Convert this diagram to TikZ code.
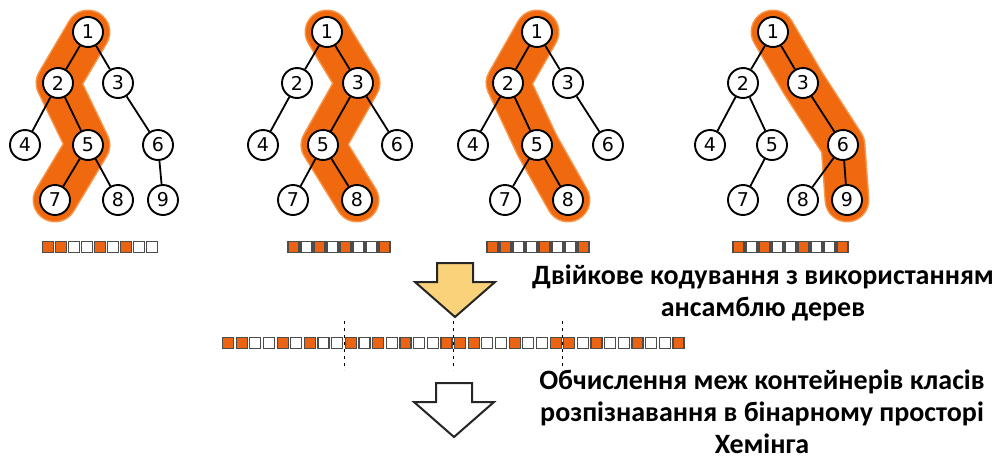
\documentclass[tikz,border=0pt]{standalone}
\usepackage{fontspec}
\setmainfont{Carlito}
\newfontfamily\numfont{DejaVu Sans}
\usetikzlibrary{backgrounds}
\definecolor{hlorange}{RGB}{240,105,15}
\definecolor{hlhalo}{RGB}{246,150,75}
\definecolor{bitorange}{RGB}{235,100,20}
\definecolor{arrowyellow}{RGB}{250,210,122}
\tikzset{
  vtx/.style={circle,draw,line width=1.9pt,fill=white,minimum size=30pt,
    inner sep=0pt,font=\numfont\fontsize{19}{19}\selectfont},
  edge/.style={line width=1.8pt},
  halo/.style={line width=45pt,hlhalo,line cap=round,line join=round},
  band/.style={line width=42pt,hlorange,line cap=round,line join=round},
  bit0/.style={draw=black!70,line width=1.2pt,minimum size=11pt,inner sep=0pt,fill=white},
  bit1/.style={bit0,fill=bitorange},
  sep/.style={dashed,line width=1pt,dash pattern=on 3pt off 4pt},
  blockarrow/.style={draw=black!85,line width=2pt,line join=miter},
  caption/.style={align=center,font=\bfseries\fontsize{28}{32}\selectfont}
}
% row of bit squares: name, first x, y, pitch, bits
\newcommand{\bitrow}[5]{%
  \foreach \b [count=\k] in {#5}
    \node[bit\b] (#1-\k) at ({#2+(\k-1)*#4},#3) {};
}
% hollow arrow pointing down, tip at (#2,#3)
\newcommand{\blockdown}[3]{%
  \draw[blockarrow,fill=#1] (#2-18,#3-54) -- (#2+18,#3-54) -- (#2+18,#3-35)
    -- (#2+40,#3-35) -- (#2,#3) -- (#2-40,#3-35) -- (#2-18,#3-35) -- cycle;
}

\begin{document}
\begin{tikzpicture}[x=1pt,y=-1pt]
\useasboundingbox (0,0) rectangle (1003,461);

% tree 1, path 1-2-5-7
\node[vtx] (a1) at (88,32) {1};
\node[vtx] (a2) at (58,83) {2};
\node[vtx] (a3) at (118,83) {3};
\node[vtx] (a4) at (25,145) {4};
\node[vtx] (a5) at (88,145) {5};
\node[vtx] (a6) at (158,145) {6};
\node[vtx] (a7) at (55,200) {7};
\node[vtx] (a8) at (118,200) {8};
\node[vtx] (a9) at (163,200) {9};
\draw[edge] (a1) -- (a2) (a1) -- (a3) (a2) -- (a4) (a2) -- (a5)
  (a3) -- (a6) (a5) -- (a7) (a5) -- (a8) (a6) -- (a9);
\begin{scope}[on background layer]
\draw[halo] (a1.center) -- (a2.center) -- (a5.center) -- (a7.center);
\draw[band] (a1.center) -- (a2.center) -- (a5.center) -- (a7.center);
\end{scope}
\bitrow{ba}{48}{247}{13}{1,1,0,0,1,0,1,0,0}

% tree 2, path 1-3-5-8
\node[vtx] (b1) at (327,32) {1};
\node[vtx] (b2) at (297,83) {2};
\node[vtx] (b3) at (358,83) {3};
\node[vtx] (b4) at (263,145) {4};
\node[vtx] (b5) at (323,145) {5};
\node[vtx] (b6) at (397,145) {6};
\node[vtx] (b7) at (293,200) {7};
\node[vtx] (b8) at (357,200) {8};
\draw[edge] (b1) -- (b2) (b1) -- (b3) (b2) -- (b4) (b3) -- (b5)
  (b3) -- (b6) (b5) -- (b7) (b5) -- (b8);
\begin{scope}[on background layer]
\draw[halo] (b1.center) -- (b3.center) -- (b5.center) -- (b8.center);
\draw[band] (b1.center) -- (b3.center) -- (b5.center) -- (b8.center);
\end{scope}
\bitrow{bb}{293.5}{247}{13}{1,0,1,0,1,0,0,1}

% tree 3, path 1-2-5-8
\node[vtx] (c1) at (537,32) {1};
\node[vtx] (c2) at (508,83) {2};
\node[vtx] (c3) at (568,83) {3};
\node[vtx] (c4) at (473,145) {4};
\node[vtx] (c5) at (537,145) {5};
\node[vtx] (c6) at (608,145) {6};
\node[vtx] (c7) at (505,200) {7};
\node[vtx] (c8) at (568,200) {8};
\draw[edge] (c1) -- (c2) (c1) -- (c3) (c2) -- (c4) (c2) -- (c5)
  (c3) -- (c6) (c5) -- (c7) (c5) -- (c8);
\begin{scope}[on background layer]
\draw[halo] (c1.center) -- (c2.center) -- (c5.center) -- (c8.center);
\draw[band] (c1.center) -- (c2.center) -- (c5.center) -- (c8.center);
\end{scope}
\bitrow{bc}{492.5}{247}{13}{1,1,0,0,1,0,0,1}

% tree 4, path 1-3-6-9
\node[vtx] (d1) at (773,32) {1};
\node[vtx] (d2) at (743,83) {2};
\node[vtx] (d3) at (803,83) {3};
\node[vtx] (d4) at (710,145) {4};
\node[vtx] (d5) at (772,145) {5};
\node[vtx] (d6) at (843,145) {6};
\node[vtx] (d7) at (743,200) {7};
\node[vtx] (d8) at (803,200) {8};
\node[vtx] (d9) at (847,200) {9};
\draw[edge] (d1) -- (d2) (d1) -- (d3) (d2) -- (d4) (d2) -- (d5)
  (d3) -- (d6) (d5) -- (d7) (d6) -- (d8) (d6) -- (d9);
\begin{scope}[on background layer]
\draw[halo] (d1.center) -- (d3.center) -- (d6.center) -- (d9.center);
\draw[band] (d1.center) -- (d3.center) -- (d6.center) -- (d9.center);
\end{scope}
\bitrow{bd}{738.5}{247}{13}{1,0,1,0,0,1,0,0,1}

% ensemble code
\blockdown{arrowyellow}{455}{317}
\bitrow{all}{228}{343}{13.65}{1,1,0,0,1,0,1,0,0,1,0,1,0,1,0,0,1,1,1,0,0,1,0,0,1,1,0,1,0,0,1,0,0,1}
\foreach \j in {9,17,25}
  \draw[sep] ([xshift=1pt,yshift=22pt]all-\j.east) -- ([xshift=1pt,yshift=-27pt]all-\j.east);
\blockdown{white}{454}{437}

\node[caption] (enc) at (763,293) {Двійкове кодування з використанням\\ансамблю дерев};
\node[caption] (bnd) at (762,412) {Обчислення меж контейнерів класів\\розпізнавання в бінарному просторі\\Хемінга};
\end{tikzpicture}
\end{document}
